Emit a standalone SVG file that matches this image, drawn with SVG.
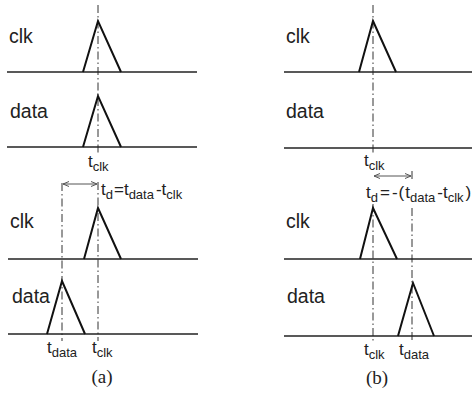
<svg xmlns="http://www.w3.org/2000/svg" width="472" height="403" viewBox="0 0 472 403">
<defs>
<style>
.lbl{font-family:"Liberation Sans",Arial,sans-serif;font-size:19.5px;fill:#222}
.t{font-family:"Liberation Sans",Arial,sans-serif;font-size:17px;fill:#222}
.s{font-size:13px}
.cap{font-family:"Liberation Serif","Times New Roman",serif;font-size:19px;fill:#222}
.base{stroke:#222;stroke-width:1.6;fill:none}
.pulse{stroke:#111;stroke-width:2;fill:none;stroke-linejoin:miter}
.dd{stroke:#333;stroke-width:1;stroke-dasharray:8 3 1.5 3;fill:none}
.arr{stroke:#555;stroke-width:1;fill:none;marker-start:url(#ah);marker-end:url(#ah)}
</style>
<marker id="ah" viewBox="0 0 6 6" refX="6" refY="3" markerWidth="6" markerHeight="6" markerUnits="userSpaceOnUse" orient="auto-start-reverse">
<path d="M0,0.5 L6,3 L0,5.5" fill="none" stroke="#555" stroke-width="1"/>
</marker>
</defs>
<rect width="472" height="403" fill="#fff"/>

<g id="connectors">
<line class="dd" x1="98" y1="5" x2="98" y2="154"/>
<line class="dd" x1="98" y1="182" x2="98" y2="341"/>
<line class="dd" x1="62" y1="183" x2="62" y2="341"/>
<line class="arr" x1="63" y1="184" x2="97" y2="184"/>
<line class="dd" x1="373" y1="5" x2="373" y2="155"/>
<line class="dd" x1="373" y1="204" x2="373" y2="342"/>
<line class="dd" x1="412" y1="171" x2="412" y2="181"/>
<line class="dd" x1="412" y1="208" x2="412" y2="342"/>
<line class="arr" x1="374" y1="176" x2="411" y2="176"/>
</g>

<g id="panel-a">
<g id="a-clk1">
<text class="lbl" x="9" y="43">clk</text>
<line class="base" x1="7" y1="72" x2="197" y2="72"/>
<polyline class="pulse" points="83,72 98,21 121,72"/>
</g>
<g id="a-data1">
<text class="lbl" x="10" y="118">data</text>
<line class="base" x1="7" y1="147" x2="197" y2="147"/>
<polyline class="pulse" points="83,147 98,96 121,147"/>
</g>
<g id="a-tclk1"><text class="t" x="88" y="167">t<tspan class="s" dy="4">clk</tspan></text></g>
<g id="a-td"><text class="t" x="101" y="195">t<tspan class="s" dy="4">d</tspan><tspan dy="-4" dx="1">=t</tspan><tspan class="s" dy="4">data</tspan><tspan dy="-4" dx="2">-t</tspan><tspan class="s" dy="4">clk</tspan></text></g>
<g id="a-clk2">
<text class="lbl" x="10" y="228">clk</text>
<line class="base" x1="8" y1="259" x2="198" y2="259"/>
<polyline class="pulse" points="84,259 98,208 121,259"/>
</g>
<g id="a-data2">
<text class="lbl" x="12" y="303">data</text>
<line class="base" x1="8" y1="334" x2="198" y2="334"/>
<polyline class="pulse" points="47,334 62,281 85,334"/>
</g>
<g id="a-tdata"><text class="t" x="47" y="353">t<tspan class="s" dy="4">data</tspan></text></g>
<g id="a-tclk2"><text class="t" x="92" y="353">t<tspan class="s" dy="4">clk</tspan></text></g>
<g id="a-cap"><text class="cap" x="102" y="383" text-anchor="middle">(a)</text></g>
</g>

<g id="panel-b">
<g id="b-clk1">
<text class="lbl" x="286" y="43">clk</text>
<line class="base" x1="284" y1="72" x2="472" y2="72"/>
<polyline class="pulse" points="359,72 373,21 396,72"/>
</g>
<g id="b-data1">
<text class="lbl" x="286" y="118">data</text>
<line class="base" x1="284" y1="148" x2="472" y2="148"/>
</g>
<g id="b-tclk1"><text class="t" x="364" y="166">t<tspan class="s" dy="4">clk</tspan></text></g>
<g id="b-td"><text class="t" x="366" y="198">t<tspan class="s" dy="4">d</tspan><tspan dy="-4" dx="2">=</tspan><tspan dx="2">-</tspan><tspan dx="1">(</tspan><tspan dx="1">t</tspan><tspan class="s" dy="4">data</tspan><tspan dy="-4" dx="2">-t</tspan><tspan class="s" dy="4">clk</tspan><tspan dy="-4" dx="2">)</tspan></text></g>
<g id="b-clk2">
<text class="lbl" x="286" y="228">clk</text>
<line class="base" x1="284" y1="259" x2="472" y2="259"/>
<polyline class="pulse" points="360,259 373,208 397,259"/>
</g>
<g id="b-data2">
<text class="lbl" x="287" y="303">data</text>
<line class="base" x1="284" y1="336" x2="472" y2="336"/>
<polyline class="pulse" points="398,336 413,283 434,336"/>
</g>
<g id="b-tclk2"><text class="t" x="364" y="355">t<tspan class="s" dy="4">clk</tspan></text></g>
<g id="b-tdata"><text class="t" x="399" y="355">t<tspan class="s" dy="4">data</tspan></text></g>
<g id="b-cap"><text class="cap" x="377" y="384" text-anchor="middle">(b)</text></g>
</g>
</svg>
